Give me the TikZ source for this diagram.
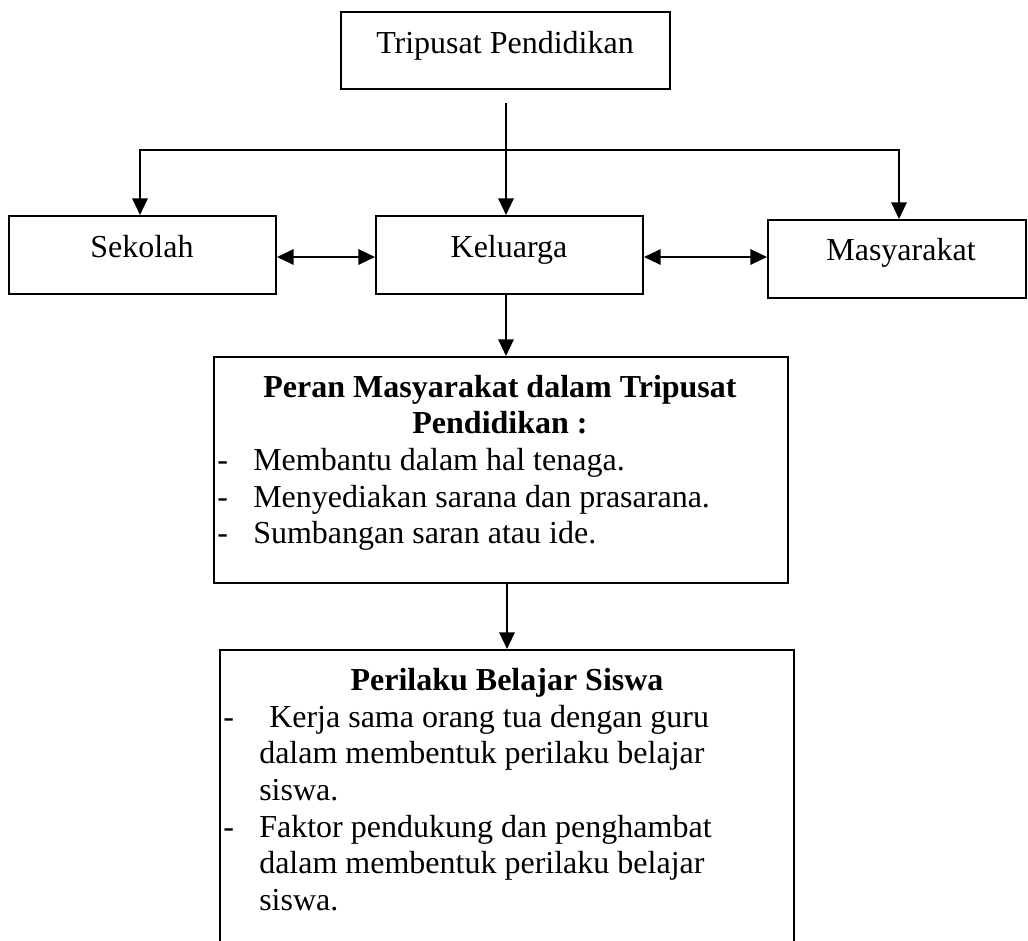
\documentclass[tikz,border=0pt]{standalone}
\usepackage{fontspec}
\setmainfont{Liberation Serif}
\usetikzlibrary{arrows.meta}
\begin{document}
\begin{tikzpicture}[x=0.75pt,y=-0.75pt,
  box/.style={draw, line width=1.5pt, inner sep=0pt, rectangle},
  txt/.style={inner sep=0pt, font=\fontsize{24}{27.5}\selectfont},
  btxt/.style={inner sep=0pt, font=\fontsize{24}{27.5}\selectfont\bfseries},
  tip/.style={Triangle[length=12.5pt,width=11.5pt]},
  arr/.style={line width=1.6pt, -{Triangle[length=12.5pt,width=11.5pt]}},
  darr/.style={line width=1.6pt, {Triangle[length=12.5pt,width=11.5pt]}-{Triangle[length=12.5pt,width=11.5pt]}},
  ln/.style={line width=1.5pt, line cap=rect}]

\path[use as bounding box, clip] (0,0) rectangle (1028,940);

% boxes
\node[box, minimum width=246.75pt, minimum height=57.75pt] (top) at (505.5,50.5) {};
\node[box, minimum width=200.25pt, minimum height=58.5pt] (sek) at (142.5,255) {};
\node[box, minimum width=200.25pt, minimum height=58.5pt] (kel) at (509.5,255) {};
\node[box, minimum width=193.5pt, minimum height=58.5pt] (mas) at (897,259) {};
\node[box, minimum width=430.5pt, minimum height=169.5pt] (peran) at (501,470) {};
\node[box, minimum width=430.5pt, minimum height=247.5pt] (peri) at (507,815) {};

% labels
\node[txt, anchor=base] (ttop) at (505,53) {Tripusat Pendidikan};
\node[txt, anchor=base] (tsek) at (142,257) {Sekolah};
\node[txt, anchor=base] (tkel) at (509,257) {Keluarga};
\node[txt, anchor=base] (tmas) at (901,260) {Masyarakat};

% peran text
\node[btxt, anchor=base] (pt1) at (500,397) {Peran Masyarakat dalam Tripusat};
\node[btxt, anchor=base] (pt2) at (500,433) {Pendidikan :};
\node[txt, anchor=base west] (pd1) at (217,470) {-};
\node[txt, anchor=base west] (pl1) at (253,470) {Membantu dalam hal tenaga.};
\node[txt, anchor=base west] (pd2) at (217,507) {-};
\node[txt, anchor=base west] (pl2) at (253,507) {Menyediakan sarana dan prasarana.};
\node[txt, anchor=base west] (pd3) at (217,543) {-};
\node[txt, anchor=base west] (pl3) at (253,543) {Sumbangan saran atau ide.};

% perilaku text
\node[btxt, anchor=base] (qt1) at (507,690) {Perilaku Belajar Siswa};
\node[txt, anchor=base west] (qd1) at (223,727) {-};
\node[txt, anchor=base west] (ql1) at (269,727) {Kerja sama orang tua dengan guru};
\node[txt, anchor=base west] (ql2) at (259,763) {dalam membentuk perilaku belajar};
\node[txt, anchor=base west] (ql3) at (259,800) {siswa.};
\node[txt, anchor=base west] (qd2) at (223,837) {-};
\node[txt, anchor=base west] (ql4) at (259,837) {Faktor pendukung dan penghambat};
\node[txt, anchor=base west] (ql5) at (259,873) {dalam membentuk perilaku belajar};
\node[txt, anchor=base west] (ql6) at (259,910) {siswa.};

% connectors
\coordinate (tstart) at (506,103);
\coordinate (hl) at (140,150);
\coordinate (hr) at (899,150);
\coordinate (dy) at (0,257);
\coordinate (ax) at (507,0);
\draw[arr] (tstart) -- (tstart |- kel.north);
\draw[ln] (hl) -- (hr);
\draw[arr] (hl) -- (hl |- sek.north);
\draw[arr] (hr) -- (hr |- mas.north);
\draw[darr] (sek.east |- dy) -- (kel.west |- dy);
\draw[darr] (kel.east |- dy) -- (mas.west |- dy);
\draw[arr] (tstart |- kel.south) -- (tstart |- peran.north);
\draw[arr] (ax |- peran.south) -- (ax |- peri.north);
\end{tikzpicture}
\end{document}
